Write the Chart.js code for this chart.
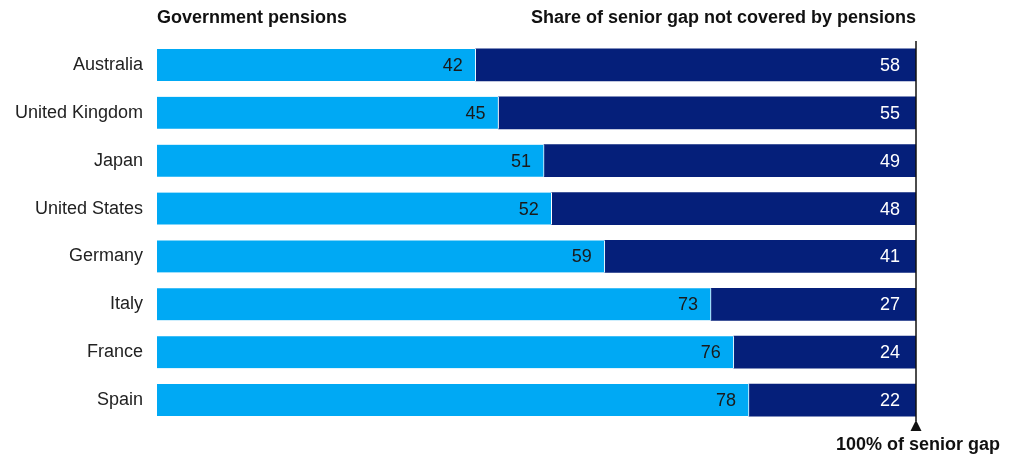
<!DOCTYPE html>
<html>
<head>
<meta charset="utf-8">
<script src="https://cdn.jsdelivr.net/npm/chart.js@4"></script>
<style>
  html, body { margin: 0; padding: 0; background: #fff; }
  #wrap { width: 1010px; height: 458px; position: relative; }
</style>
</head>
<body>
<div id="wrap"><canvas id="chart"></canvas></div>
<script>
// data
const countries = ['Australia', 'United Kingdom', 'Japan', 'United States', 'Germany', 'Italy', 'France', 'Spain'];
const govPensions = [42, 45, 51, 52, 59, 73, 76, 78];
const notCovered = [58, 55, 49, 48, 41, 27, 24, 22];

const FONT = '"Liberation Sans", Arial, Helvetica, sans-serif';
const LIGHT = '#00A9F4';
const NAVY = '#051F7A';

// value labels inside the end of each segment
const valueLabels = {
  id: 'valueLabels',
  afterDatasetsDraw(chart) {
    const ctx = chart.ctx;
    ctx.save();
    ctx.font = '18px ' + FONT;
    ctx.textAlign = 'right';
    ctx.textBaseline = 'middle';
    chart.data.datasets.forEach((ds, i) => {
      const meta = chart.getDatasetMeta(i);
      meta.data.forEach((bar, j) => {
        ctx.fillStyle = i === 0 ? '#1a1a1a' : '#ffffff';
        ctx.fillText(ds.data[j], bar.x - (i === 0 ? 13 : 16), bar.y + 1);
      });
    });
    ctx.restore();
  }
};

// headers, 100% line and arrow
const annotations = {
  id: 'annotations',
  afterDraw(chart) {
    const ctx = chart.ctx;
    const area = chart.chartArea;
    const x100 = chart.scales.x.getPixelForValue(100);
    ctx.save();
    ctx.fillStyle = '#111';
    ctx.font = 'bold 18px ' + FONT;
    ctx.textBaseline = 'middle';
    ctx.textAlign = 'left';
    ctx.fillText('Government pensions', area.left, 18);
    ctx.textAlign = 'right';
    ctx.fillText('Share of senior gap not covered by pensions', x100, 18);

    ctx.strokeStyle = '#111';
    ctx.lineWidth = 1.5;
    ctx.beginPath();
    ctx.moveTo(x100, area.top);
    ctx.lineTo(x100, 421);
    ctx.stroke();
    ctx.beginPath();
    ctx.moveTo(x100, 420);
    ctx.lineTo(x100 - 5.5, 431);
    ctx.lineTo(x100 + 5.5, 431);
    ctx.closePath();
    ctx.fill();

    ctx.textAlign = 'right';
    ctx.fillText('100% of senior gap', 1000, 445);
    ctx.restore();
  }
};

new Chart(document.getElementById('chart'), {
  type: 'bar',
  data: {
    labels: countries,
    datasets: [
      {
        label: 'Government pensions',
        data: govPensions,
        backgroundColor: LIGHT,
        borderColor: '#ffffff',
        borderWidth: { right: 1, left: 0, top: 0, bottom: 0 },
        borderSkipped: false,
        barThickness: 32
      },
      {
        label: 'Share of senior gap not covered by pensions',
        data: notCovered,
        backgroundColor: NAVY,
        borderWidth: 0,
        barThickness: 32
      }
    ]
  },
  options: {
    indexAxis: 'y',
    responsive: true,
    maintainAspectRatio: false,
    animation: false,
    layout: { padding: { top: 41, bottom: 34, right: 94, left: 0 } },
    plugins: {
      legend: { display: false },
      tooltip: { enabled: false }
    },
    scales: {
      x: {
        stacked: true,
        min: 0,
        max: 100,
        display: false
      },
      y: {
        stacked: true,
        grid: { display: false, drawTicks: false },
        border: { display: false },
        ticks: {
          padding: 14,
          color: '#222',
          font: { family: FONT, size: 18 }
        },
        afterFit(scale) { scale.width = 157; }
      }
    }
  },
  plugins: [valueLabels, annotations]
});
</script>
</body>
</html>
